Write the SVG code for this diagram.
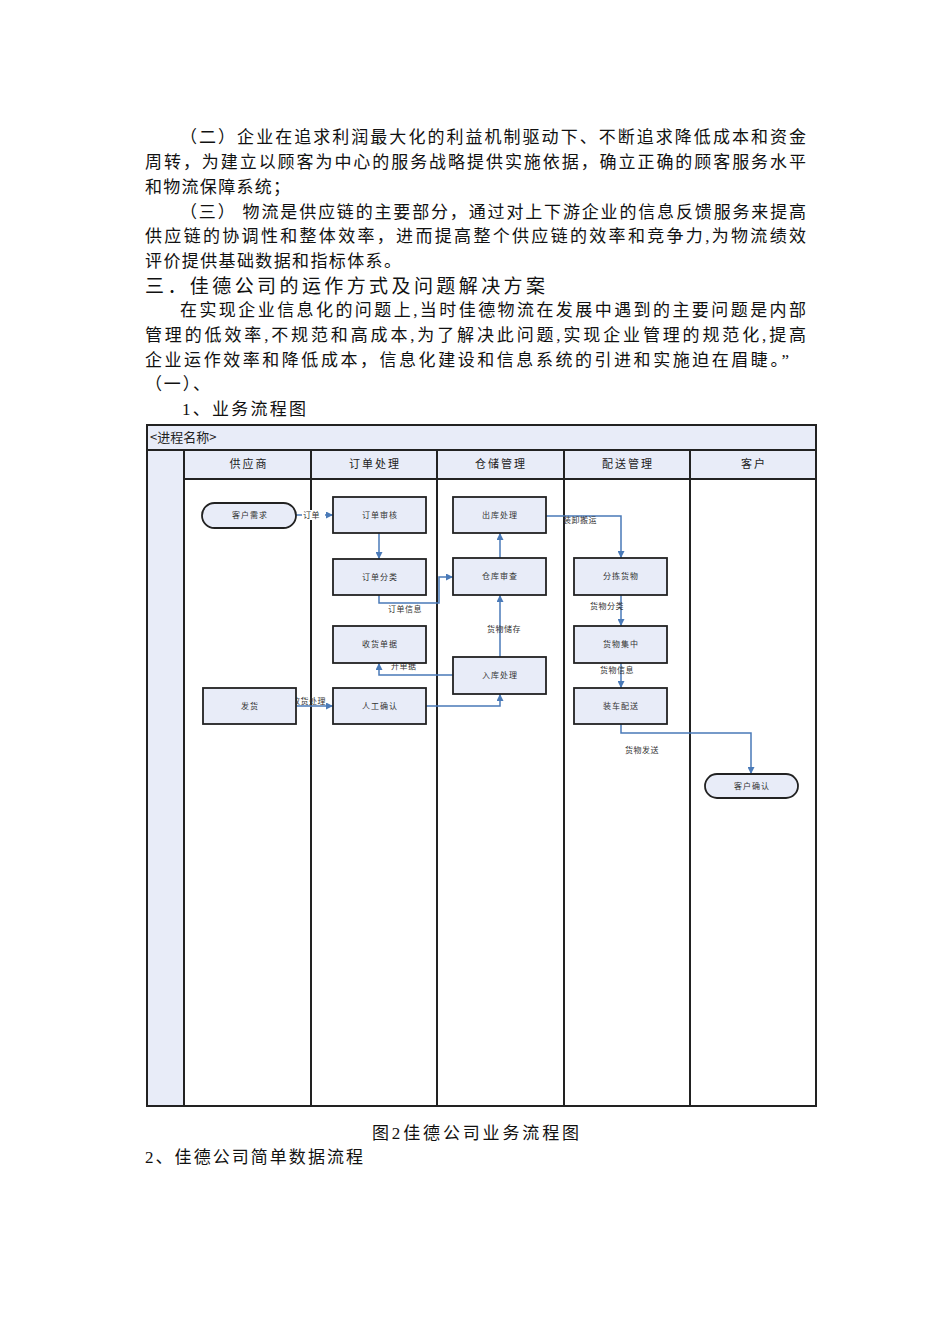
<svg xmlns="http://www.w3.org/2000/svg" width="950" height="1344" viewBox="0 0 950 1344">
<style>
.body{font-family:"Liberation Serif","Noto Sans CJK SC",serif;font-size:17px;fill:#111;}
.head{font-family:"Liberation Serif","Noto Sans CJK SC",serif;font-size:19px;fill:#111;}
.lane{fill:#fff;stroke:#222;stroke-width:2;}
.hdr{fill:#e8ecf8;stroke:#222;stroke-width:2;}
.hl{font-family:"Noto Sans CJK SC",sans-serif;font-size:11px;fill:#222;text-anchor:middle;letter-spacing:2px;}
.box{fill:#e8ecf8;stroke:#222;stroke-width:1.8;}
.nl{font-family:"Noto Sans CJK SC",sans-serif;font-size:8px;fill:#333;text-anchor:middle;letter-spacing:1px;}
.el{font-family:"Noto Sans CJK SC",sans-serif;font-size:8px;fill:#333;letter-spacing:0.5px;}
.conn{fill:none;stroke:#4a7ab8;stroke-width:1.5;}
</style>
<defs>
<marker id="ah" viewBox="0 0 10 10" refX="10" refY="5" markerWidth="7" markerHeight="7" markerUnits="userSpaceOnUse" orient="auto">
<path d="M0,0 L10,5 L0,10 z" fill="#4a7ab8"/>
</marker>
</defs>
<rect width="950" height="1344" fill="#fff"/>
<g id="text">
<text class="body" x="180" y="143" textLength="626" lengthAdjust="spacing">（二）企业在追求利润最大化的利益机制驱动下、不断追求降低成本和资金</text>
<text class="body" x="145" y="168" textLength="661" lengthAdjust="spacing">周转，为建立以顾客为中心的服务战略提供实施依据，确立正确的顾客服务水平</text>
<text class="body" x="145" y="193" textLength="145" lengthAdjust="spacing">和物流保障系统；</text>
<text class="body" x="180" y="218" textLength="626" lengthAdjust="spacing">（三） 物流是供应链的主要部分，通过对上下游企业的信息反馈服务来提高</text>
<text class="body" x="145" y="242" textLength="661" lengthAdjust="spacing">供应链的协调性和整体效率，进而提高整个供应链的效率和竞争力,为物流绩效</text>
<text class="body" x="145" y="267" textLength="256" lengthAdjust="spacing">评价提供基础数据和指标体系。</text>
<text class="head" x="145" y="293" textLength="400" lengthAdjust="spacing">三．佳德公司的运作方式及问题解决方案</text>
<text class="body" x="180" y="316" textLength="626" lengthAdjust="spacing">在实现企业信息化的问题上,当时佳德物流在发展中遇到的主要问题是内部</text>
<text class="body" x="145" y="341" textLength="661" lengthAdjust="spacing">管理的低效率,不规范和高成本,为了解决此问题,实现企业管理的规范化,提高</text>
<text class="body" x="145" y="366" textLength="644" lengthAdjust="spacing">企业运作效率和降低成本，信息化建设和信息系统的引进和实施迫在眉睫。”</text>
<text class="body" x="145" y="390" textLength="65" lengthAdjust="spacing">（一）、</text>
<text class="body" x="182" y="415" textLength="124" lengthAdjust="spacing">1、业务流程图</text>
<text class="body" x="372" y="1139" textLength="207" lengthAdjust="spacing">图2佳德公司业务流程图</text>
<text class="body" x="145" y="1163" textLength="218" lengthAdjust="spacing">2、佳德公司简单数据流程</text>
</g>
<g id="pool">
<rect class="lane" x="147" y="425" width="669" height="681"/>
<rect class="hdr" x="147" y="425" width="669" height="25"/>
<text x="150" y="442" font-family="Noto Sans CJK SC,sans-serif" font-size="13" fill="#222">&lt;进程名称&gt;</text>
<rect class="hdr" x="147" y="450" width="37" height="656"/>
<rect class="hdr" x="184" y="450" width="127" height="29"/>
<rect class="hdr" x="311" y="450" width="126" height="29"/>
<rect class="hdr" x="437" y="450" width="127" height="29"/>
<rect class="hdr" x="564" y="450" width="126" height="29"/>
<rect class="hdr" x="690" y="450" width="126" height="29"/>
<line x1="311" y1="479" x2="311" y2="1106" stroke="#222" stroke-width="2"/>
<line x1="437" y1="479" x2="437" y2="1106" stroke="#222" stroke-width="2"/>
<line x1="564" y1="479" x2="564" y2="1106" stroke="#222" stroke-width="2"/>
<line x1="690" y1="479" x2="690" y2="1106" stroke="#222" stroke-width="2"/>
<text class="hl" x="249" y="468">供应商</text>
<text class="hl" x="375" y="468">订单处理</text>
<text class="hl" x="501" y="468">仓储管理</text>
<text class="hl" x="628" y="468">配送管理</text>
<text class="hl" x="754" y="468">客户</text>
</g>
<g id="connectors">
<path class="conn" d="M296,515 H333" marker-end="url(#ah)"/>
<path class="conn" d="M379,533 V559" marker-end="url(#ah)"/>
<path class="conn" d="M379,595 V603 H439 V577 H453" marker-end="url(#ah)"/>
<path class="conn" d="M500,558 V533" marker-end="url(#ah)"/>
<path class="conn" d="M500,657 V595" marker-end="url(#ah)"/>
<path class="conn" d="M453,675 H379 V663" marker-end="url(#ah)"/>
<path class="conn" d="M426,706 H500 V694" marker-end="url(#ah)"/>
<path class="conn" d="M296,706 H333" marker-end="url(#ah)"/>
<path class="conn" d="M546,516 H621 V558" marker-end="url(#ah)"/>
<path class="conn" d="M621,595 V626" marker-end="url(#ah)"/>
<path class="conn" d="M621,663 V688" marker-end="url(#ah)"/>
<path class="conn" d="M621,724 V733 H751 V774" marker-end="url(#ah)"/>
<rect x="302" y="510" width="23" height="10" fill="#fff"/>
<text class="el" x="303" y="518">订单</text>
<text class="el" x="292" y="704">收货处理</text>
<text class="el" x="388" y="612">订单信息</text>
<text class="el" x="391" y="669">开单据</text>
<text class="el" x="487" y="632">货物储存</text>
<text class="el" x="563" y="523">装卸搬运</text>
<text class="el" x="590" y="609">货物分类</text>
<text class="el" x="600" y="673">货物信息</text>
<text class="el" x="625" y="753">货物发送</text>
</g>
<g id="n1"><rect class="box" x="202" y="503" width="94" height="25" rx="12.5"/><text class="nl" x="250" y="518">客户需求</text></g>
<g id="n2"><rect class="box" x="333" y="497" width="93" height="36"/><text class="nl" x="380" y="518">订单审核</text></g>
<g id="n3"><rect class="box" x="333" y="559" width="93" height="36"/><text class="nl" x="380" y="580">订单分类</text></g>
<g id="n4"><rect class="box" x="333" y="626" width="93" height="37"/><text class="nl" x="380" y="647">收货单据</text></g>
<g id="n5"><rect class="box" x="333" y="688" width="93" height="36"/><text class="nl" x="380" y="709">人工确认</text></g>
<g id="n6"><rect class="box" x="203" y="688" width="93" height="36"/><text class="nl" x="250" y="709">发货</text></g>
<g id="n7"><rect class="box" x="453" y="497" width="93" height="36"/><text class="nl" x="500" y="518">出库处理</text></g>
<g id="n8"><rect class="box" x="453" y="558" width="93" height="37"/><text class="nl" x="500" y="579">仓库审查</text></g>
<g id="n9"><rect class="box" x="453" y="657" width="93" height="37"/><text class="nl" x="500" y="678">入库处理</text></g>
<g id="n10"><rect class="box" x="574" y="558" width="93" height="37"/><text class="nl" x="621" y="579">分拣货物</text></g>
<g id="n11"><rect class="box" x="574" y="626" width="93" height="37"/><text class="nl" x="621" y="647">货物集中</text></g>
<g id="n12"><rect class="box" x="574" y="688" width="93" height="36"/><text class="nl" x="621" y="709">装车配送</text></g>
<g id="n13"><rect class="box" x="705" y="774" width="93" height="24" rx="12"/><text class="nl" x="752" y="789">客户确认</text></g>
</svg>
